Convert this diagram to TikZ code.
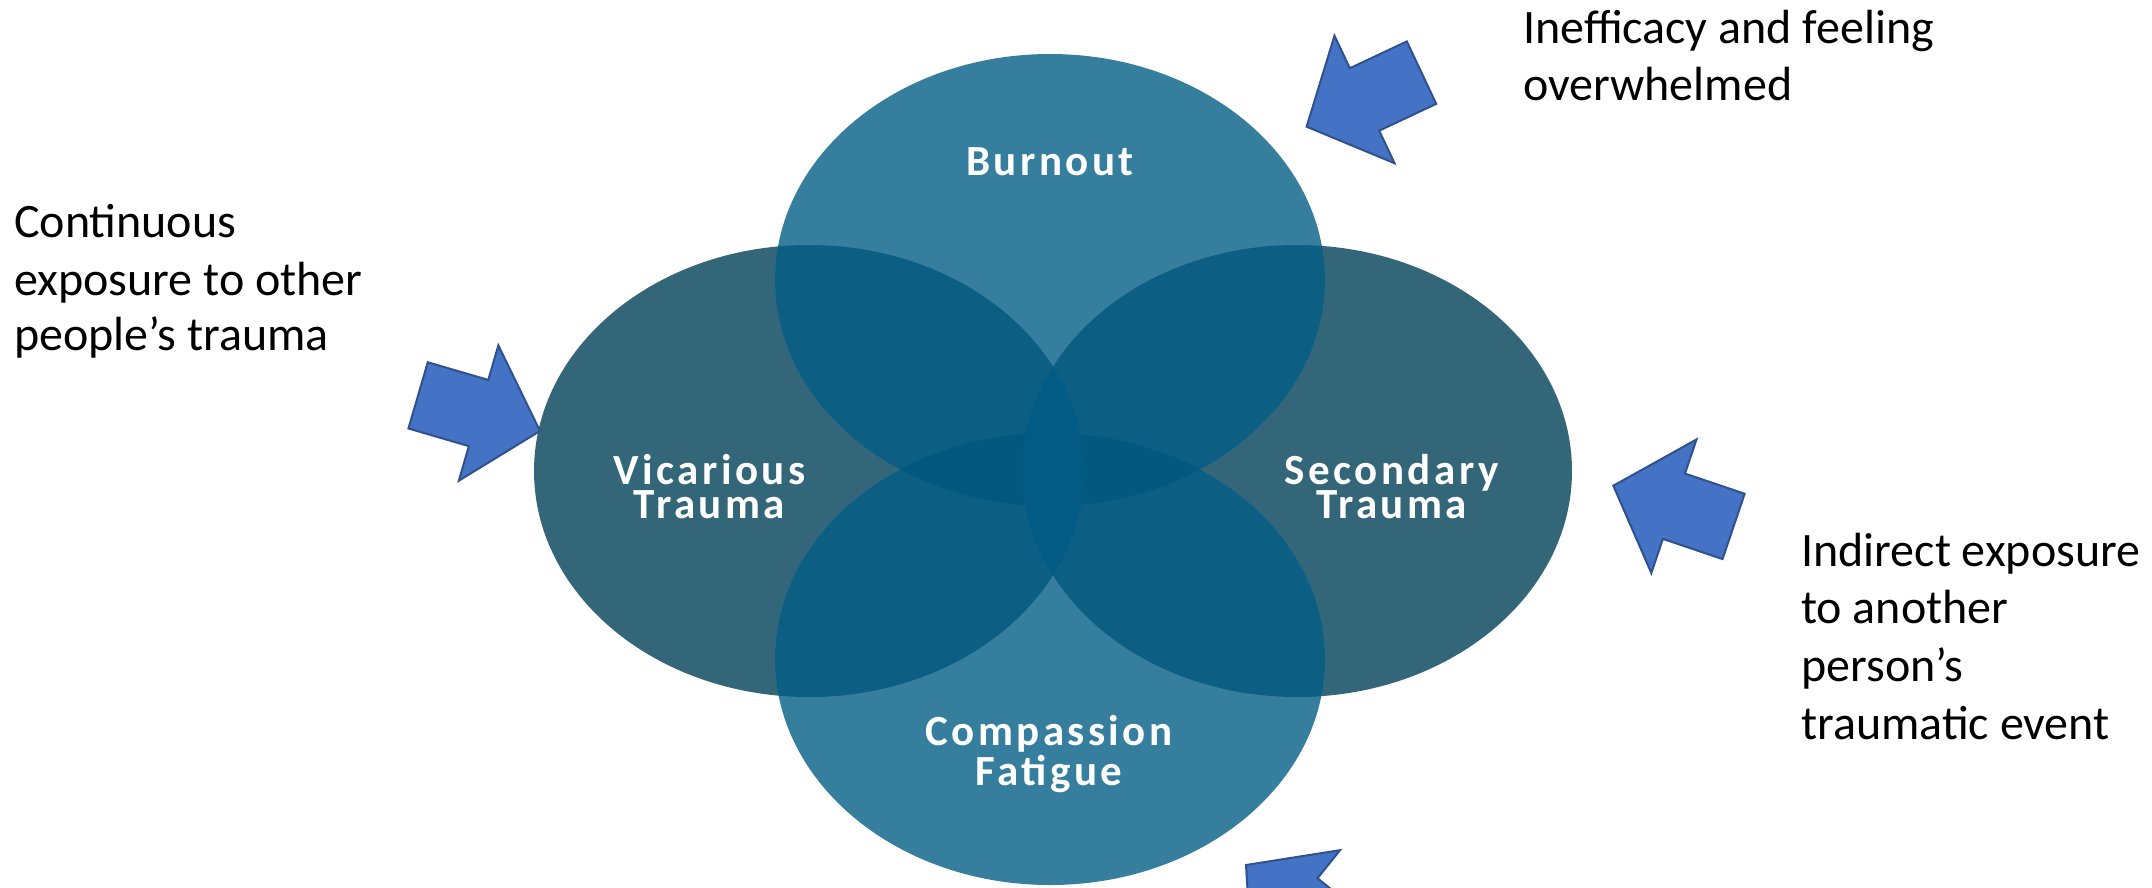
\documentclass[tikz,border=0pt]{standalone}
\usepackage{fontspec}
\setmainfont{Carlito}
\newfontfamily\circlefont[LetterSpace=8]{Carlito}

% palette
\definecolor{soloLight}{HTML}{357E9D}
\definecolor{soloDark}{HTML}{336678}
\definecolor{pairTone}{HTML}{0C5E82}
\definecolor{lensVert}{HTML}{02587E}
\definecolor{lensHorz}{HTML}{015B84}
\definecolor{coreTone}{HTML}{035A82}
\definecolor{arrowFill}{HTML}{4472C4}
\definecolor{arrowEdge}{HTML}{2F528F}

\tikzset{
  ellBurnout/.style={insert path={(1050,280) ellipse [x radius=275pt, y radius=226pt]}},
  ellCompassion/.style={insert path={(1050,659) ellipse [x radius=275pt, y radius=226pt]}},
  ellVicarious/.style={insert path={(809,471) ellipse [x radius=275pt, y radius=226pt]}},
  ellSecondary/.style={insert path={(1297,471) ellipse [x radius=275pt, y radius=226pt]}},
  circlelabel/.style={text=white, font=\circlefont\bfseries\fontsize{43}{43}\selectfont,
    inner sep=0pt, anchor=base, text height=27pt, text depth=0pt},
  sidelabel/.style={text=black, font=\fontsize{48}{58}\selectfont,
    inner sep=0pt, anchor=base west},
  blockarrow/.pic={
    \filldraw[fill=arrowFill, draw=arrowEdge, line width=2pt, line join=miter]
      (0,0) -- (-64,-70.5) -- (-64,-34.5) -- (-127,-34.5) -- (-127,34.5)
      -- (-64,34.5) -- (-64,70.5) -- cycle;
  }
}

\begin{document}
\begin{tikzpicture}[x=1pt,y=-1pt]
\useasboundingbox (0,0) rectangle (2152,887);
\clip (0,0) rectangle (2152,887);

% the four ellipses
\fill[soloDark, ellVicarious];
\fill[soloDark, ellSecondary];
\fill[soloLight, ellBurnout];
\fill[soloLight, ellCompassion];

% pairwise overlaps
\begin{scope}
  \clip[ellBurnout];
  \fill[pairTone, ellVicarious];
  \fill[pairTone, ellSecondary];
\end{scope}
\begin{scope}
  \clip[ellCompassion];
  \fill[pairTone, ellVicarious];
  \fill[pairTone, ellSecondary];
\end{scope}

% central lenses
\begin{scope}
  \clip[ellBurnout];
  \fill[lensVert, ellCompassion];
\end{scope}
\begin{scope}
  \clip[ellVicarious];
  \fill[lensHorz, ellSecondary];
\end{scope}
\begin{scope}
  \clip[ellVicarious];
  \clip[ellSecondary];
  \clip[ellBurnout];
  \fill[coreTone, ellCompassion];
\end{scope}

% ellipse labels
\node[circlelabel] (burnout) at (1050,175) {Burnout};
\node[circlelabel] (vicariousA) at (709.5,484) {Vicarious};
\node[circlelabel] (vicariousB) at (709.5,518) {Trauma};
\node[circlelabel] (secondaryA) at (1391.6,484) {Secondary};
\node[circlelabel] (secondaryB) at (1391.6,518) {Trauma};
\node[circlelabel] (compassionA) at (1049,745.5) {Compassion};
\node[circlelabel] (compassionB) at (1049,785) {Fatigue};

% block arrows (tip position, heading)
\path (1306.6,126.7) pic[rotate=205.2] {blockarrow};
\path (540,431) pic[rotate=-16.3] {blockarrow};
\path (1613.3,485.7) pic[rotate=161.3] {blockarrow};
\path (1246,865) pic[rotate=141.2] {blockarrow};

% side captions
\node[sidelabel] (contA) at (14,237) {Continuous};
\node[sidelabel] (contB) at (14,295) {exposure to other};
\node[sidelabel] (contC) at (14,350) {people’s trauma};

\node[sidelabel] (ineffA) at (1523,43) {Inefficacy and feeling};
\node[sidelabel] (ineffB) at (1523,100.5) {overwhelmed};

\node[sidelabel] (indirA) at (1801,566) {Indirect exposure};
\node[sidelabel] (indirB) at (1801,623.7) {to another};
\node[sidelabel] (indirC) at (1801,681.4) {person’s};
\node[sidelabel] (indirD) at (1801,739.1) {traumatic event};
\end{tikzpicture}
\end{document}
